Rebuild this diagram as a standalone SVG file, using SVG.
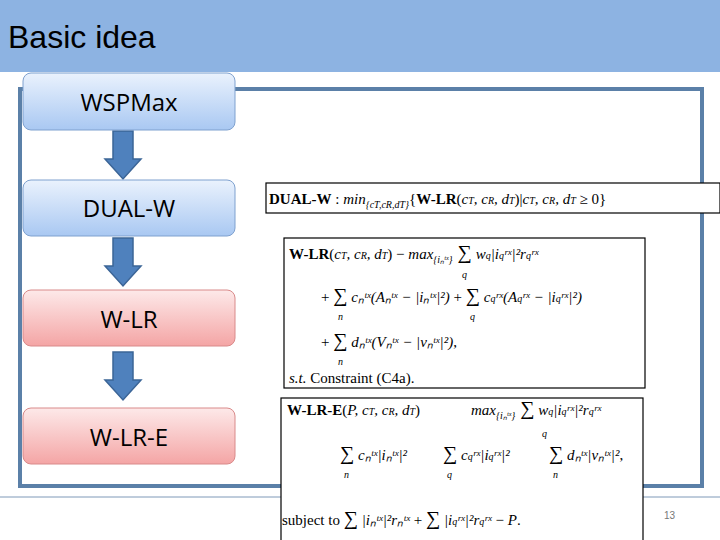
<svg xmlns="http://www.w3.org/2000/svg" width="720" height="540" viewBox="0 0 720 540">
<style>
.nt{font-family:"Open Sans","Liberation Sans",sans-serif;font-size:24px;fill:#000;text-anchor:middle}
.f{font-family:"Liberation Serif",serif;font-size:15px;fill:#000}
.i{font-style:italic}
.b{font-weight:bold}
.s{font-size:10px}
.fb{fill:#fff;stroke:#000;stroke-width:1.2}
</style>
<defs>
<linearGradient id="gb" x1="0" y1="0" x2="0" y2="1"><stop offset="0" stop-color="#eaf2fd"/><stop offset="1" stop-color="#a9c8f2"/></linearGradient>
<linearGradient id="gr" x1="0" y1="0" x2="0" y2="1"><stop offset="0" stop-color="#fde9e9"/><stop offset="1" stop-color="#f4a5a5"/></linearGradient>
<polygon id="ar" points="-10,0 10,0 10,28 18,28 0,48 -18,28 -10,28" fill="#4f81bd" stroke="#3b6597" stroke-width="1.5"/>
</defs>
<rect width="720" height="540" fill="#fff"/>
<rect width="720" height="72" fill="#8db3e2"/>
<text x="8" y="48" font-family="Liberation Sans,sans-serif" font-size="32" fill="#000">Basic idea</text>
<rect x="20" y="89" width="682" height="397" fill="#fff" stroke="#5b80a8" stroke-width="4"/>
<line x1="0" y1="497" x2="720" y2="497" stroke="#7f99b8" stroke-width="1"/>
<text x="664" y="519" font-family="Liberation Sans,sans-serif" font-size="10" fill="#777">13</text>
<g id="connectors">
<use href="#ar" x="123" y="131"/>
<use href="#ar" x="123" y="238"/>
<use href="#ar" x="123" y="352"/>
</g>
<g id="n1"><rect x="23" y="73" width="212" height="57" rx="8" fill="url(#gb)" stroke="#7fa1cf"/><text class="nt" x="129" y="111">WSPMax</text></g>
<g id="n2"><rect x="23" y="180" width="212" height="56" rx="8" fill="url(#gb)" stroke="#7fa1cf"/><text class="nt" x="129" y="217">DUAL-W</text></g>
<g id="n3"><rect x="23" y="290" width="212" height="56" rx="8" fill="url(#gr)" stroke="#d98a8a"/><text class="nt" x="129" y="328">W-LR</text></g>
<g id="n4"><rect x="23" y="408" width="212" height="56" rx="8" fill="url(#gr)" stroke="#d98a8a"/><text class="nt" x="129" y="446">W-LR-E</text></g>
<g id="f1"><rect class="fb" x="266" y="183" width="454" height="30"/>
<text class="f" x="269" y="204" font-size="14"><tspan class="b">DUAL-W</tspan> : <tspan class="i">min</tspan><tspan class="s i" dy="4">{cT,cR,dT}</tspan><tspan dy="-4">{</tspan><tspan class="b">W-LR</tspan>(<tspan class="i">c<tspan class="s">T</tspan>, c<tspan class="s">R</tspan>, d<tspan class="s">T</tspan></tspan>)|<tspan class="i">c<tspan class="s">T</tspan>, c<tspan class="s">R</tspan>, d<tspan class="s">T</tspan></tspan> ≥ 0}</text></g>
<g id="f2"><rect class="fb" x="284" y="238" width="361" height="150"/>
<text class="f" x="289" y="259"><tspan class="b">W-LR</tspan>(<tspan class="i">c<tspan class="s">T</tspan>, c<tspan class="s">R</tspan>, d<tspan class="s">T</tspan></tspan>) − <tspan class="i">max</tspan><tspan class="s i" dy="4">{iₙᵗˣ}</tspan><tspan dy="-4" font-size="20"> ∑</tspan> <tspan class="i">w<tspan class="s">q</tspan>|i<tspan class="s">q</tspan>ʳˣ|²r<tspan class="s">q</tspan>ʳˣ</tspan></text>
<text class="f i s" x="462" y="278">q</text>
<text class="f" x="321" y="302">+ <tspan font-size="20">∑</tspan> <tspan class="i">cₙᵗˣ(Aₙᵗˣ − |iₙᵗˣ|²) </tspan>+ <tspan font-size="20">∑</tspan> <tspan class="i">c<tspan class="s">q</tspan>ʳˣ(A<tspan class="s">q</tspan>ʳˣ − |i<tspan class="s">q</tspan>ʳˣ|²)</tspan></text>
<text class="f i s" x="338" y="320">n</text><text class="f i s" x="470" y="320">q</text>
<text class="f" x="321" y="347">+ <tspan font-size="20">∑</tspan> <tspan class="i">dₙᵗˣ(Vₙᵗˣ − |vₙᵗˣ|²)</tspan>,</text>
<text class="f i s" x="338" y="365">n</text>
<text class="f" x="289" y="383"><tspan class="i">s.t.</tspan> Constraint (C4a).</text></g>
<g id="f3"><rect class="fb" x="281" y="398" width="362" height="145"/>
<text class="f" x="287" y="415"><tspan class="b">W-LR-E</tspan>(<tspan class="i">P, c<tspan class="s">T</tspan>, c<tspan class="s">R</tspan>, d<tspan class="s">T</tspan></tspan>)</text>
<text class="f" x="471" y="415"><tspan class="i">max</tspan><tspan class="s i" dy="4">{iₙᵗˣ}</tspan><tspan dy="-4" font-size="20"> ∑</tspan> <tspan class="i">w<tspan class="s">q</tspan>|i<tspan class="s">q</tspan>ʳˣ|²r<tspan class="s">q</tspan>ʳˣ</tspan></text>
<text class="f i s" x="542" y="437">q</text>
<text class="f" x="340" y="460"><tspan font-size="20">∑</tspan> <tspan class="i">cₙᵗˣ|iₙᵗˣ|²</tspan></text>
<text class="f" x="443" y="460"><tspan font-size="20">∑</tspan> <tspan class="i">c<tspan class="s">q</tspan>ʳˣ|i<tspan class="s">q</tspan>ʳˣ|²</tspan></text>
<text class="f" x="549" y="460"><tspan font-size="20">∑</tspan> <tspan class="i">dₙᵗˣ|vₙᵗˣ|²</tspan>,</text>
<text class="f i s" x="344" y="478">n</text><text class="f i s" x="447" y="478">q</text><text class="f i s" x="553" y="478">n</text>
<text class="f" x="282" y="525">subject to <tspan font-size="20">∑</tspan> <tspan class="i">|iₙᵗˣ|²rₙᵗˣ</tspan> + <tspan font-size="20">∑</tspan> <tspan class="i">|i<tspan class="s">q</tspan>ʳˣ|²r<tspan class="s">q</tspan>ʳˣ</tspan> − <tspan class="i">P</tspan>.</text></g>
</svg>
